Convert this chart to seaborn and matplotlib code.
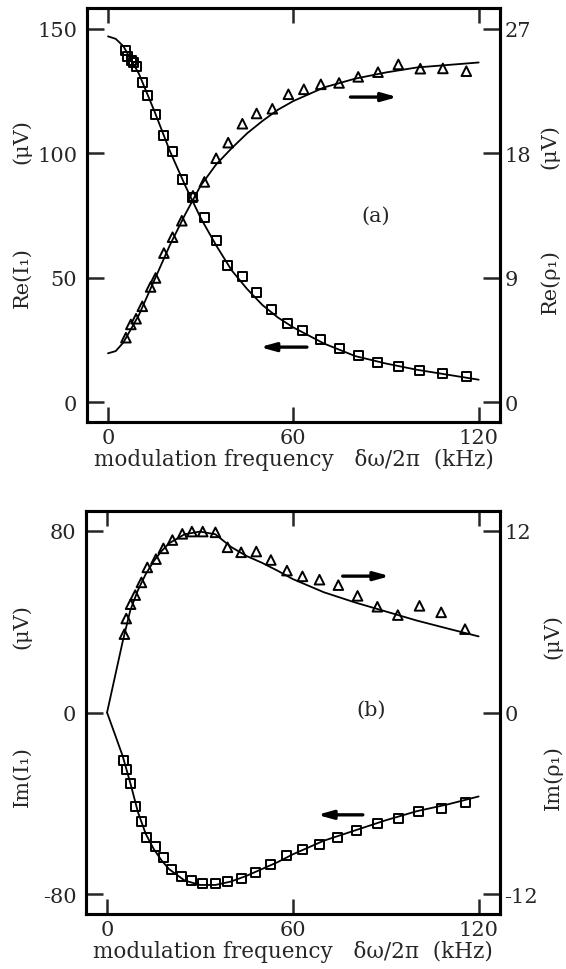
import numpy as np
import pandas as pd
import matplotlib
matplotlib.use("Agg")
import matplotlib.pyplot as plt
import seaborn as sns

sns.set_style("ticks")
plt.rcParams["font.family"] = ["DejaVu Serif"]
plt.rcParams["mathtext.fontset"] = "dejavuserif"

# ---------------- data (a): real parts ----------------
re_I_x = [5.6, 6.4, 7.6, 8.4, 9.3, 11.1, 12.9, 15.4, 18.1, 21.0, 24.2, 27.2, 31.3, 35.0,
          38.8, 43.5, 48.1, 52.9, 58.1, 63.1, 68.7, 74.8, 81.0, 87.4, 94.0, 100.7, 108.4, 115.9]
re_I_y = [141.4, 139.0, 137.4, 136.6, 135.0, 128.6, 123.4, 115.4, 107.0, 100.9, 89.3, 82.2, 74.2, 65.0,
          54.8, 50.3, 43.9, 37.2, 31.5, 28.8, 25.2, 21.5, 18.8, 16.1, 14.3, 12.5, 11.6, 10.3]

re_rho_x = [5.8, 7.4, 9.1, 11.1, 13.8, 15.4, 18.1, 20.9, 23.9, 27.5, 31.2, 35.0, 38.9, 43.5,
            48.1, 53.2, 58.4, 63.4, 68.9, 74.8, 81.0, 87.4, 94.0, 101.1, 108.4, 116.0]
re_rho_y = [4.66, 5.62, 6.03, 6.93, 8.33, 8.98, 10.78, 11.93, 13.12, 14.92, 15.93, 17.64, 18.77, 20.14,
            20.88, 21.22, 22.27, 22.63, 22.99, 23.09, 23.53, 23.87, 24.43, 24.12, 24.14, 23.94]

fit_a_x = [0, 2.5, 5, 10, 15, 20, 25, 30, 35, 40, 45, 50, 55, 60, 70, 80, 90, 100, 110, 120]
re_I_fit = [147, 146, 143, 132, 117, 101, 87, 74, 63, 53, 45.5, 39, 34, 30, 23.5, 18.5, 15.5, 13, 11, 9]
re_rho_fit = [3.53, 3.69, 4.32, 6.30, 8.82, 11.34, 13.59, 15.66, 17.19, 18.36, 19.44, 20.34, 21.15,
              21.78, 22.77, 23.40, 23.85, 24.21, 24.39, 24.57]

# ---------------- data (b): imaginary parts ----------------
im_I_x = [5.4, 6.4, 7.7, 9.1, 11.2, 12.8, 15.5, 18.1, 20.8, 24.0, 27.4, 30.9, 35.0, 38.9,
          43.3, 48.0, 52.9, 58.1, 63.1, 68.6, 74.4, 80.6, 87.3, 94.0, 100.7, 107.9, 115.6]
im_I_y = [-21.0, -25.3, -31.4, -41.5, -48.2, -55.1, -59.0, -63.9, -69.3, -72.2, -74.1, -75.3, -75.2, -74.6,
          -73.0, -70.5, -67.1, -63.2, -60.2, -58.0, -55.1, -52.2, -48.8, -46.7, -43.8, -42.3, -39.7]

im_rho_x = [5.6, 6.2, 7.6, 9.1, 11.1, 13.0, 15.8, 18.2, 21.1, 24.3, 27.4, 30.9, 35.0, 38.9,
            43.3, 48.2, 52.9, 58.1, 63.1, 68.6, 74.7, 80.9, 87.3, 93.9, 100.9, 107.9, 115.6]
im_rho_y = [5.18, 6.21, 7.16, 7.76, 8.60, 9.59, 10.14, 10.85, 11.40, 11.81, 11.96, 11.96, 11.91, 10.92,
            10.59, 10.64, 10.08, 9.38, 9.00, 8.78, 8.42, 7.71, 6.99, 6.44, 7.05, 6.62, 5.51]

fit_b_x = [0, 5, 7.5, 10, 12.5, 15, 17.5, 20, 25, 30, 35, 40, 45, 50, 55, 60, 70, 80, 90, 100, 110, 120]
im_I_fit = [0, -19, -31, -44, -53.5, -60, -65, -69, -74, -76, -76, -74.5, -72, -69, -66, -62.5,
            -56.5, -52, -47.5, -43.5, -40.5, -37]
im_rho_fit = [0, 4.65, 6.75, 8.10, 9.15, 9.98, 10.65, 11.18, 11.78, 11.96, 11.78, 10.95, 10.35, 9.90,
              9.38, 8.82, 7.95, 7.28, 6.68, 6.08, 5.55, 5.03]

x_ticks = [0, 60, 120]
a_left_ticks = [0, 50, 100, 150]
a_right_ticks = [0, 9, 18, 27]
b_left_ticks = [-80, 0, 80]
b_right_ticks = [-12, 0, 12]
b_left_labels = ["-80", "0", "80"]
b_right_labels = ["-12", "0", "12"]

W, H = 566, 970
fig = plt.figure(figsize=(W / 100, H / 100), dpi=100)
fig.patch.set_facecolor("white")

FS = 15
LW_SP = 2.2


def style(ax, ax2, xl, yl, yl2):
    ax.set_xlim(*xl)
    ax.set_ylim(*yl)
    ax2.set_ylim(*yl2)
    for a in (ax, ax2):
        for s in a.spines.values():
            s.set_linewidth(LW_SP)
            s.set_color("black")
    ax.tick_params(axis="x", direction="in", length=11, width=1.8, top=True, bottom=True,
                   labelsize=FS, pad=4)
    ax.tick_params(axis="y", direction="in", length=12, width=1.8, left=True, right=False,
                   labelsize=FS, pad=7)
    ax2.tick_params(axis="y", direction="in", length=12, width=1.8, right=True, left=False,
                    labelsize=FS, pad=3)
    ax.set_xticks(x_ticks)
    ax.set_xticklabels([str(t) for t in x_ticks])
    ax.set_xlabel("modulation frequency   δω/2π  (kHz)", fontsize=15.5, labelpad=1)
    ax.set_ylabel("")
    ax2.set_ylabel("")
    ax.set_facecolor("none")
    ax2.set_facecolor("none")


def curve(ax, x, y):
    sns.lineplot(x=x, y=y, ax=ax, color="black", linewidth=1.3, sort=False, estimator=None)


def pts(ax, x, y, m, s):
    sns.scatterplot(x=x, y=y, ax=ax, marker=m, s=s, facecolor="none", edgecolor="black",
                    linewidth=1.4, zorder=5)


def arrow(ax, x0, x1, y):
    ax.annotate("", xy=(x1, y), xytext=(x0, y),
                arrowprops=dict(arrowstyle="-|>,head_length=0.9,head_width=0.25",
                                lw=2.4, color="black", shrinkA=0, shrinkB=0))


# ---------------- panel (a) ----------------
axA = fig.add_axes([87 / W, 1 - 423 / H, 413 / W, 414 / H])
axA2 = axA.twinx()
ylA = (-8.0, 158.4)
curve(axA, fit_a_x, re_I_fit)
pts(axA, re_I_x, re_I_y, "s", 42)
curve(axA2, fit_a_x, re_rho_fit)
pts(axA2, re_rho_x, re_rho_y, "^", 48)
style(axA, axA2, (-6.8, 126.9), ylA, (ylA[0] * 0.18, ylA[1] * 0.18))
axA.set_yticks(a_left_ticks)
axA2.set_yticks(a_right_ticks)
axA.text(86.7, 75, "(a)", fontsize=FS, ha="center", va="center")
arrow(axA, 78.5, 93.7, 122.6)
arrow(axA, 64.4, 49.2, 22.1)

# ---------------- panel (b) ----------------
axB = fig.add_axes([86 / W, 1 - 915 / H, 414 / W, 403 / H])
axB2 = axB.twinx()
ylB = (-88.8, 88.8)
curve(axB, fit_b_x, im_I_fit)
pts(axB, im_I_x, im_I_y, "s", 42)
curve(axB2, fit_b_x, im_rho_fit)
pts(axB2, im_rho_x, im_rho_y, "^", 48)
style(axB, axB2, (-6.8, 126.9), ylB, (ylB[0] * 0.15, ylB[1] * 0.15))
axB.set_yticks(b_left_ticks)
axB.set_yticklabels(b_left_labels)
axB2.set_yticks(b_right_ticks)
axB2.set_yticklabels(b_right_labels)
axB.text(85.4, 1.3, "(b)", fontsize=FS, ha="center", va="center")
arrow(axB, 76.1, 91.3, 60.1)
arrow(axB, 82.6, 67.9, -45.1)

# ---------------- split axis titles ----------------
def vtext(x, y, s):
    fig.text(x / W, 1 - y / H, s, rotation=90, ha="center", va="center", fontsize=FS)

vtext(22, 142, "(μV)")
vtext(22, 278, "Re(I₁)")
vtext(550, 147, "(μV)")
vtext(550, 282, "Re(ρ₁)")
vtext(22, 627, "(μV)")
vtext(22, 777, "Im(I₁)")
vtext(553, 637, "(μV)")
vtext(553, 778, "Im(ρ₁)")

fig.savefig("out.png", dpi=100, facecolor="white")
